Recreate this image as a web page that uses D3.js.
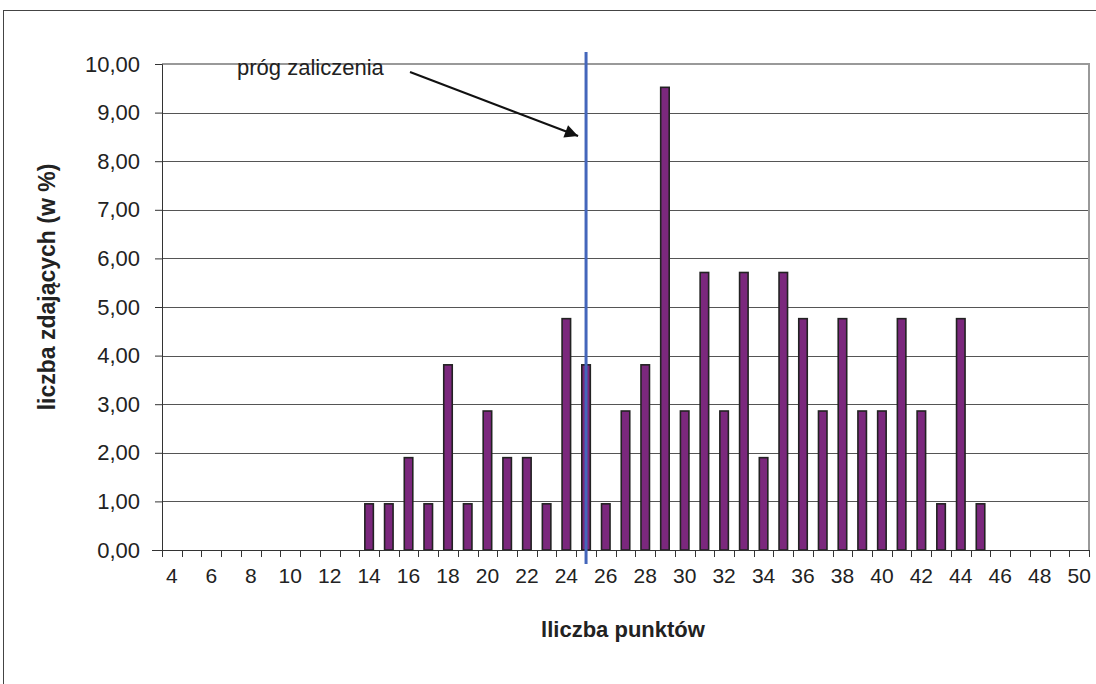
<!DOCTYPE html>
<html>
<head>
<meta charset="utf-8">
<script src="https://cdn.jsdelivr.net/npm/d3@7"></script>
<style>
  body { margin: 0; background: #fff; }
  text { font-family: "Liberation Sans", Arial, sans-serif; fill: #222; }
</style>
</head>
<body>
<script>
// liczba punktow (kategorie) i odsetek zdajacych
var punkty = d3.range(4, 51).map(String);
var procent = [0, 0, 0, 0, 0, 0, 0, 0, 0, 0,
	0.95, 0.95, 1.90, 0.95, 3.81, 0.95, 2.86, 1.90, 1.90, 0.95,
	4.76, 3.81, 0.95, 2.86, 3.81, 9.52, 2.86, 5.71, 2.86, 5.71,
	1.90, 5.71, 4.76, 2.86, 4.76, 2.86, 2.86, 4.76, 2.86, 0.95,
	4.76, 0.95, 0, 0, 0, 0, 0];
var yTicks = [0, 1, 2, 3, 4, 5, 6, 7, 8, 9, 10];
var xLabels = d3.range(4, 51, 2).map(String);
var prog = "25";

var W = 1096, H = 684;
var margin = {top: 64, right: 7, bottom: 134, left: 162};
var width = W - margin.left - margin.right,
	height = H - margin.top - margin.bottom;

var svg = d3.select("body").append("svg")
	.attr("width", W)
	.attr("height", H);

// ramka wykresu
svg.append("rect")
	.attr("x", 3.5).attr("y", 10.5)
	.attr("width", W + 10).attr("height", H + 10)
	.attr("fill", "none").attr("stroke", "#444").attr("stroke-width", 1);

var g = svg.append("g")
	.attr("transform", "translate(" + margin.left + "," + margin.top + ")");

var x = d3.scaleBand().domain(punkty).range([0, width]).paddingInner(0).paddingOuter(0);
var y = d3.scaleLinear().domain([0, 10]).range([height, 0]);

// linie siatki
g.selectAll(".grid")
	.data(yTicks.filter(function(d){ return d > 0 && d < 10; }))
	.enter().append("line")
	.attr("x1", 0).attr("x2", width)
	.attr("y1", function(d){ return Math.round(y(d)) + 0.5; })
	.attr("y2", function(d){ return Math.round(y(d)) + 0.5; })
	.attr("stroke", "#555").attr("stroke-width", 1);

// gorna i prawa krawedz
g.append("path")
	.attr("d", "M0," + (y(10)) + "H" + width + "V" + height)
	.attr("fill", "none").attr("stroke", "#999").attr("stroke-width", 2);

// slupki
var barW = 8.5;
g.selectAll(".bar")
	.data(procent.map(function(v, i){ return {k: punkty[i], v: v}; }).filter(function(d){ return d.v > 0; }))
	.enter().append("rect")
	.attr("x", function(d){ return x(d.k) + x.bandwidth() / 2 - barW / 2; })
	.attr("y", function(d){ return y(d.v); })
	.attr("width", barW)
	.attr("height", function(d){ return height - y(d.v); })
	.attr("fill", "#7B287D")
	.attr("stroke", "#222").attr("stroke-width", 1.6);

// os Y
var yAxis = g.append("g")
	.call(d3.axisLeft(y).tickValues(yTicks).tickSize(7).tickPadding(15)
		.tickFormat(function(d){ return d3.format(".2f")(d).replace(".", ","); }));
yAxis.select(".domain").attr("stroke", "#333");
yAxis.selectAll(".tick line").attr("stroke", "#333");
yAxis.selectAll("text").style("font-size", "22px")
	.style("font-family", "Liberation Sans, Arial, sans-serif").attr("fill", "#222");

// os X - kreski na granicach kategorii
var xAxisG = g.append("g").attr("transform", "translate(0," + height + ")");
xAxisG.append("line")
	.attr("x1", -10).attr("x2", width)
	.attr("y1", 0.5).attr("y2", 0.5)
	.attr("stroke", "#333");
xAxisG.selectAll(".xt")
	.data(punkty.concat(["end"]))
	.enter().append("line")
	.attr("x1", function(d, i){ return Math.round(i * x.step()) + 0.5; })
	.attr("x2", function(d, i){ return Math.round(i * x.step()) + 0.5; })
	.attr("y1", 0).attr("y2", 7)
	.attr("stroke", "#333");
xAxisG.selectAll(".xl")
	.data(xLabels)
	.enter().append("text")
	.attr("x", function(d){ return x(d) + x.bandwidth() / 2; })
	.attr("y", 32.5)
	.attr("text-anchor", "middle")
	.style("font-size", "21px")
	.text(function(d){ return d; });

// prog zaliczenia
var px = x(prog) + x.bandwidth() / 2;
g.append("line")
	.attr("x1", px).attr("x2", px)
	.attr("y1", 52 - margin.top).attr("y2", height + 14)
	.attr("stroke", "#4466BB").attr("stroke-width", 3);

svg.append("defs").append("marker")
	.attr("id", "arr")
	.attr("viewBox", "0 0 10 10")
	.attr("refX", 10).attr("refY", 5)
	.attr("markerWidth", 7).attr("markerHeight", 6)
	.attr("markerUnits", "strokeWidth")
	.attr("orient", "auto")
	.append("path").attr("d", "M0,0L10,5L0,10z").attr("fill", "#111");

g.append("line")
	.attr("x1", 410 - margin.left).attr("y1", 72 - margin.top)
	.attr("x2", px - 8).attr("y2", 136 - margin.top)
	.attr("stroke", "#111").attr("stroke-width", 2.2)
	.attr("marker-end", "url(#arr)");

svg.append("text")
	.attr("x", 237).attr("y", 75)
	.style("font-size", "22px")
	.text("próg zaliczenia");

// tytuly osi
svg.append("text")
	.attr("transform", "translate(55,287) rotate(-90)")
	.attr("text-anchor", "middle")
	.style("font-size", "23px").style("font-weight", "bold")
	.text("liczba zdających (w %)");

svg.append("text")
	.attr("x", 623).attr("y", 637)
	.attr("text-anchor", "middle")
	.style("font-size", "22px").style("font-weight", "bold")
	.text("lliczba punktów");
</script>
</body>
</html>
